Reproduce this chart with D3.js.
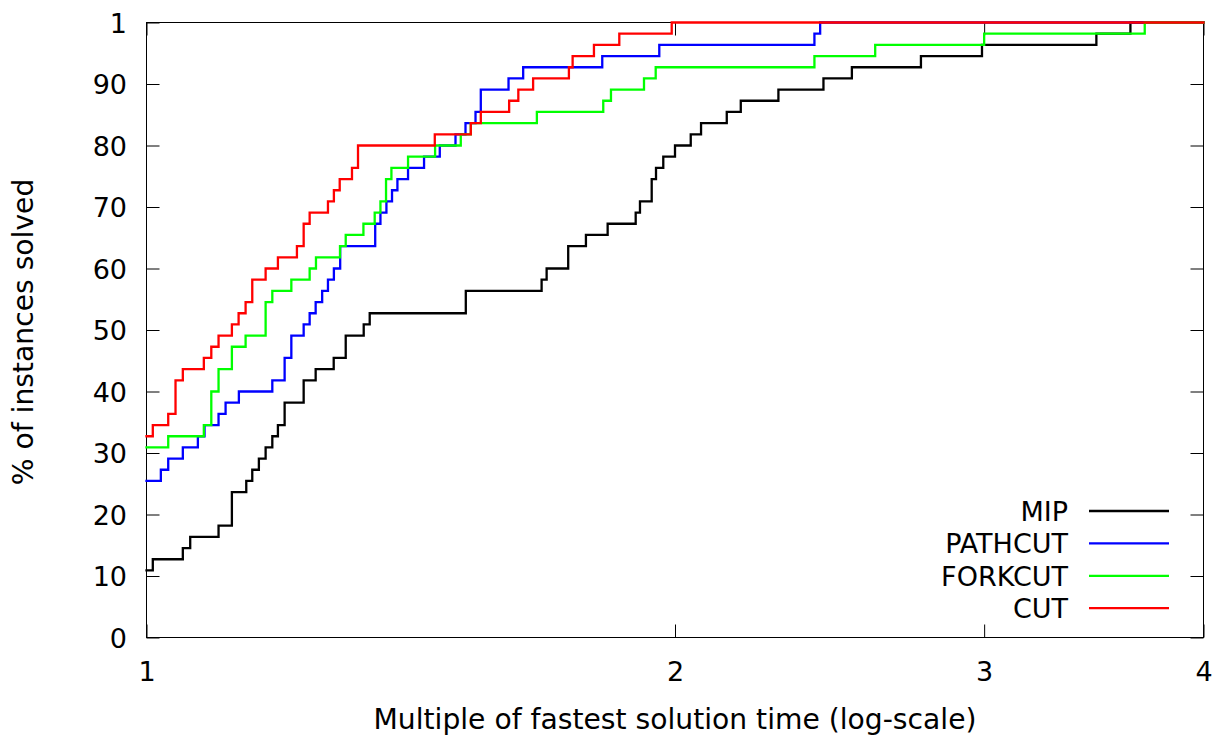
<!DOCTYPE html>
<html>
<head>
<meta charset="utf-8">
<script src="https://cdn.jsdelivr.net/npm/d3@7"></script>
<style>
  html, body { margin: 0; padding: 0; background: #fff; }
  svg { display: block; }
</style>
</head>
<body>
<svg id="chart" width="1220" height="735"></svg>
<script>
// Performance profile: share of the 55 instances solved within a given
// multiple of the fastest solution time.
const TOTAL_INSTANCES = 55;

const seriesNames = ["MIP", "PATHCUT", "FORKCUT", "CUT"];

// Ratio at which the solved count rises, and the solved count from there on.
const mipRatio = [1.0000, 1.0083, 1.0488, 1.0590, 1.0991, 1.1185, 1.1398, 1.1488, 1.1588, 1.1691,
  1.1794, 1.1881, 1.1986, 1.2289, 1.2484, 1.2783, 1.2986, 1.3296, 1.3401, 1.5201,
  1.6790, 1.6901, 1.7386, 1.7795, 1.8309, 1.8995, 1.9102, 1.9398, 1.9508, 1.9695,
  2.0000, 2.0417, 2.0695, 2.1405, 2.1802, 2.2905, 2.4299, 2.5222, 2.7613, 2.9915,
  3.4757, 3.6344];
const mipSolved = [6, 7, 8, 9, 10, 13, 14, 15, 16, 17,
  18, 19, 21, 23, 24, 25, 27, 28, 29, 31,
  32, 33, 35, 36, 37, 38, 39, 41, 42, 43,
  44, 45, 46, 47, 48, 49, 50, 51, 52, 53,
  54, 55];

const pathcutRatio = [1.0000, 1.0190, 1.0289, 1.0488, 1.0697, 1.0791, 1.0991, 1.1093, 1.1288, 1.1794,
  1.1986, 1.2092, 1.2289, 1.2386, 1.2484, 1.2591, 1.2687, 1.2786, 1.2892, 1.3498,
  1.3591, 1.3698, 1.3799, 1.3897, 1.4092, 1.4391, 1.4691, 1.4997, 1.5195, 1.5396,
  1.5503, 1.6077, 1.6389, 1.8180, 1.9592, 2.4013, 2.4194];
const pathcutSolved = [14, 15, 16, 17, 18, 19, 20, 21, 22, 23,
  25, 27, 28, 29, 30, 31, 32, 33, 35, 37,
  38, 39, 40, 41, 42, 43, 44, 45, 46, 47,
  49, 50, 51, 52, 53, 54, 55];

const forkcutRatio = [1.0000, 1.0289, 1.0781, 1.0887, 1.0991, 1.1185, 1.1388, 1.1691, 1.1794, 1.2092,
  1.2386, 1.2489, 1.2889, 1.2986, 1.3291, 1.3489, 1.3591, 1.3691, 1.3788, 1.4092,
  1.4601, 1.5101, 1.5301, 1.6686, 1.8204, 1.8389, 1.9203, 1.9500, 2.4013, 2.6005,
  3.0000, 3.7033];
const forkcutSolved = [17, 18, 19, 22, 24, 26, 27, 30, 31, 32,
  33, 34, 35, 36, 37, 38, 39, 41, 42, 43,
  44, 45, 46, 47, 48, 49, 50, 51, 52, 53,
  54, 55];

const cutRatio = [1.0000, 1.0083, 1.0289, 1.0388, 1.0488, 1.0781, 1.0887, 1.0991, 1.1185, 1.1284,
  1.1388, 1.1488, 1.1691, 1.1881, 1.2181, 1.2289, 1.2386, 1.2687, 1.2786, 1.2884,
  1.3093, 1.3197, 1.4595, 1.5301, 1.5503, 1.6090, 1.6285, 1.6604, 1.7402, 1.7487,
  1.7983, 1.8591, 1.9914];
const cutSolved = [18, 19, 20, 23, 24, 25, 26, 27, 28, 29,
  30, 32, 33, 34, 35, 37, 38, 39, 40, 41,
  42, 44, 45, 46, 47, 48, 49, 50, 51, 52,
  53, 54, 55];

const xTickValues = [1, 2, 3, 4];
const xTickLabels = ["1", "2", "3", "4"];
const yTickValues = [0, 10, 20, 30, 40, 50, 60, 70, 80, 90, 100];
const yTickLabels = ["0", "10", "20", "30", "40", "50", "60", "70", "80", "90", "1"];

const seriesColors = ["#000000", "#0000ff", "#00ff00", "#ff0000"];

// ---- layout ----
const FONT = "'DejaVu Sans', sans-serif";
const FS = 27;        // tick labels and legend
const FS_TITLE = 28.2; // axis titles
const plot = { left: 146.5, right: 1203.5, top: 22.5, bottom: 637.5 };
const TICK = 13;

const svg = d3.select("#chart");

const x = d3.scaleLog().base(2).domain([1, 4]).range([plot.left, plot.right]);
const y = d3.scaleLinear().domain([0, 100]).range([plot.bottom, plot.top]);

// frame
svg.append("rect")
  .attr("x", plot.left).attr("y", plot.top)
  .attr("width", plot.right - plot.left).attr("height", plot.bottom - plot.top)
  .attr("fill", "none").attr("stroke", "#000").attr("stroke-width", 1);

function styleAxis(g) {
  g.select(".domain").remove();
  g.selectAll(".tick line").attr("stroke", "#000").attr("stroke-width", 1);
  g.selectAll("text").attr("font-family", FONT).attr("font-size", FS).attr("fill", "#000");
}

// bottom axis with labels, top mirror ticks
svg.append("g")
  .attr("transform", `translate(0,${plot.bottom})`)
  .call(d3.axisBottom(x).tickValues(xTickValues)
    .tickFormat((d, i) => xTickLabels[i]).tickSize(-TICK).tickPadding(24))
  .call(styleAxis);
svg.append("g")
  .attr("transform", `translate(0,${plot.top})`)
  .call(d3.axisTop(x).tickValues(xTickValues).tickFormat("").tickSize(-TICK))
  .call(styleAxis);

// left axis with labels, right mirror ticks
svg.append("g")
  .attr("transform", `translate(${plot.left},0)`)
  .call(d3.axisLeft(y).tickValues(yTickValues)
    .tickFormat((d, i) => yTickLabels[i]).tickSize(-TICK).tickPadding(19.5))
  .call(styleAxis)
  .call(g => g.selectAll("text").attr("dy", "0.36em"));
svg.append("g")
  .attr("transform", `translate(${plot.right},0)`)
  .call(d3.axisRight(y).tickValues(yTickValues).tickFormat("").tickSize(-TICK))
  .call(styleAxis);

// axis titles
svg.append("text")
  .attr("x", (plot.left + plot.right) / 2).attr("y", 729)
  .attr("text-anchor", "middle")
  .attr("font-family", FONT).attr("font-size", FS_TITLE)
  .text("Multiple of fastest solution time (log-scale)");

svg.append("text")
  .attr("transform", `translate(33,${(plot.top + plot.bottom) / 2 + 2}) rotate(-90)`)
  .attr("text-anchor", "middle")
  .attr("font-family", FONT).attr("font-size", FS_TITLE)
  .text("% of instances solved");

// step curves
const series = [
  { name: seriesNames[0], ratio: mipRatio, solved: mipSolved, color: seriesColors[0] },
  { name: seriesNames[1], ratio: pathcutRatio, solved: pathcutSolved, color: seriesColors[1] },
  { name: seriesNames[2], ratio: forkcutRatio, solved: forkcutSolved, color: seriesColors[2] },
  { name: seriesNames[3], ratio: cutRatio, solved: cutSolved, color: seriesColors[3] }
];

const line = d3.line()
  .x(d => x(d.r))
  .y(d => y(d.p))
  .curve(d3.curveStepAfter);

series.forEach(s => {
  const pts = s.ratio.map((r, i) => ({ r, p: s.solved[i] / TOTAL_INSTANCES * 100 }));
  // hold the final level out to the end of the axis
  pts.push({ r: x.domain()[1], p: pts[pts.length - 1].p });
  svg.append("path")
    .datum(pts)
    .attr("d", line)
    .attr("fill", "none")
    .attr("stroke", s.color)
    .attr("stroke-width", 2.3)
    .attr("stroke-linejoin", "miter")
    .attr("stroke-linecap", "square");
});

// legend
const legend = svg.append("g");
const legendRow0 = 511, legendStep = 32.4;
series.forEach((s, i) => {
  const yy = legendRow0 + i * legendStep;
  legend.append("text")
    .attr("x", 1068).attr("y", yy).attr("dy", "0.36em")
    .attr("text-anchor", "end")
    .attr("font-family", FONT).attr("font-size", FS)
    .text(s.name);
  legend.append("line")
    .attr("x1", 1089).attr("x2", 1169)
    .attr("y1", yy).attr("y2", yy)
    .attr("stroke", s.color).attr("stroke-width", 2.3);
});
</script>
</body>
</html>
